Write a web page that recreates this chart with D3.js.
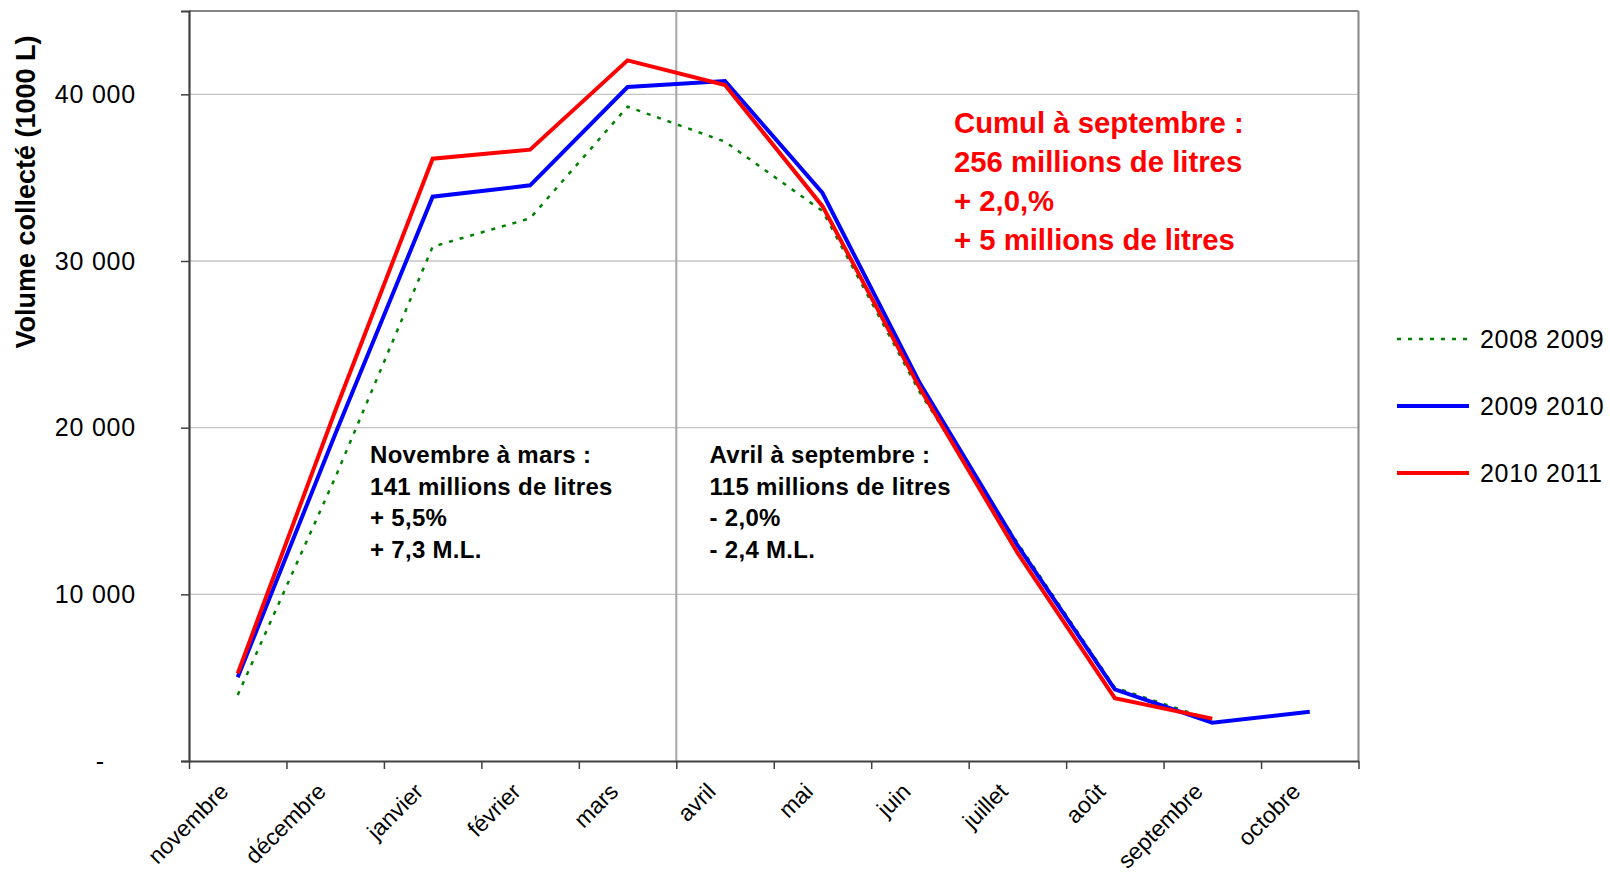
<!DOCTYPE html>
<html>
<head>
<meta charset="utf-8">
<script src="https://cdn.jsdelivr.net/npm/d3@7"></script>
<style>
  body { margin: 0; background: #fff; }
  svg { font-family: "Liberation Sans", Arial, sans-serif; }
</style>
</head>
<body>
<div id="chart"></div>
<script>
// months of the campaign (nov -> oct)
var months = ["novembre", "décembre", "janvier", "février", "mars", "avril",
              "mai", "juin", "juillet", "août", "septembre", "octobre"];
// volumes in 1000 L
var s2008_2009 = [3960, 17000, 30860, 32560, 39260, 37160, 33000, 22100, 13100, 4400, 2450, null];
var s2009_2010 = [5020, 19600, 33860, 34540, 40440, 40800, 34080, 22660, 12950, 4300, 2300, 2960];
var s2010_2011 = [5260, 21000, 36140, 36680, 42040, 40560, 33290, 22360, 12500, 3770, 2540, null];
var seriesNames = ["2008 2009", "2009 2010", "2010 2011"];
var yTicks = [0, 10000, 20000, 30000, 40000];
var splitMonth = "avril";
var noteLeft = ["Novembre à mars :", "141 millions de litres", "+ 5,5%", "+ 7,3 M.L."];
var noteRight = ["Avril à septembre :", "115 millions de litres", "- 2,0%", "- 2,4 M.L."];
var noteCumul = ["Cumul à septembre :", "256 millions de litres", "+ 2,0,%", "+ 5 millions de litres"];

var W = 1610, H = 877;
var margin = {top: 11, right: 251.5, bottom: 116, left: 189};
var svg = d3.select("#chart").append("svg").attr("width", W).attr("height", H);
var width = W - margin.left - margin.right,
    height = H - margin.top - margin.bottom;
var g = svg.append("g").attr("transform", "translate(" + margin.left + "," + margin.top + ")");

var x = d3.scaleBand().domain(months).range([0, width]).padding(0);
var xEdge = d3.scaleLinear().domain([0, months.length]).range([0, width]);
var y = d3.scaleLinear().domain([0, 45000]).range([height, 0]);
var cx = function(m) { return x(m) + x.bandwidth() / 2; };

// gridlines
g.selectAll("line.grid")
  .data(yTicks.filter(function(d) { return d > 0; }))
  .enter().append("line")
    .attr("x1", 0).attr("x2", width)
    .attr("y1", function(d) { return y(d); }).attr("y2", function(d) { return y(d); })
    .attr("stroke", "#c4c4c4").attr("stroke-width", 1.3);

// top & right border
g.append("line").attr("x1", 0).attr("x2", width).attr("y1", 0).attr("y2", 0)
  .attr("stroke", "#858585").attr("stroke-width", 2);
g.append("line").attr("x1", width).attr("x2", width).attr("y1", 0).attr("y2", height)
  .attr("stroke", "#858585").attr("stroke-width", 2);

// split line between mars and avril
g.append("line")
  .attr("x1", x(splitMonth)).attr("x2", x(splitMonth))
  .attr("y1", 0).attr("y2", height)
  .attr("stroke", "#a6a6a6").attr("stroke-width", 2);

// y axis
var yAxis = g.append("g")
  .call(d3.axisLeft(y).tickValues(yTicks).tickSize(8).tickPadding(45)
    .tickFormat(function(d) { return d === 0 ? "-" : d3.format(",")(d).replace(",", " "); }));
yAxis.select(".domain").attr("stroke", "#404040").attr("stroke-width", 2.2);
yAxis.selectAll(".tick line").attr("stroke", "#404040").attr("stroke-width", 1.5);
yAxis.selectAll(".tick text").attr("fill", "#000").style("font-size", "25px")
  .style("letter-spacing", "0.8px")
  .attr("dx", function(d) { return d === 0 ? -31 : 0; });

// x axis (ticks at month boundaries)
var xAxis = g.append("g").attr("transform", "translate(0," + height + ")")
  .call(d3.axisBottom(xEdge).ticks(months.length).tickSize(8).tickSizeOuter(0).tickFormat(""));
xAxis.select(".domain").attr("stroke", "#404040").attr("stroke-width", 2.2);
xAxis.selectAll(".tick line").attr("stroke", "#404040").attr("stroke-width", 1.5);

g.selectAll("text.xlab")
  .data(months)
  .enter().append("text")
    .attr("class", "xlab")
    .attr("text-anchor", "end")
    .attr("transform", function(d) { return "translate(" + (cx(d) - 8) + "," + (height + 32) + ") rotate(-45)"; })
    .style("font-size", "23px")
    .attr("fill", "#000")
    .text(function(d) { return d; });

// y title
svg.append("text")
  .attr("transform", "translate(35,192) rotate(-90)")
  .attr("text-anchor", "middle")
  .style("font-size", "27px").style("font-weight", "bold")
  .text("Volume collecté (1000 L)");

// lines
var series = [
  {name: seriesNames[0], values: s2008_2009, color: "#008000", width: 2.5, dash: "4,7"},
  {name: seriesNames[1], values: s2009_2010, color: "#0000ff", width: 4, dash: null},
  {name: seriesNames[2], values: s2010_2011, color: "#ff0000", width: 4, dash: null}
];
var line = d3.line()
  .defined(function(d) { return d.v != null; })
  .x(function(d) { return cx(d.m); })
  .y(function(d) { return y(d.v); });

g.selectAll("path.series")
  .data(series)
  .enter().append("path")
    .attr("class", "series")
    .attr("fill", "none")
    .attr("stroke", function(d) { return d.color; })
    .attr("stroke-width", function(d) { return d.width; })
    .attr("stroke-dasharray", function(d) { return d.dash; })
    .attr("stroke-linejoin", "miter")
    .attr("d", function(d) {
      return line(months.map(function(m, i) { return {m: m, v: d.values[i]}; }));
    });

// legend
var legend = svg.append("g").attr("transform", "translate(1397,339)");
var li = legend.selectAll("g").data(series).enter().append("g")
  .attr("transform", function(d, i) { return "translate(0," + (i * 67) + ")"; });
li.append("line").attr("x1", 0).attr("x2", 72).attr("y1", 0).attr("y2", 0)
  .attr("stroke", function(d) { return d.color; })
  .attr("stroke-width", function(d) { return d.width; })
  .attr("stroke-dasharray", function(d) { return d.dash; });
li.append("text").attr("x", 83).attr("y", 9)
  .style("font-size", "25px").style("letter-spacing", "0.7px")
  .text(function(d) { return d.name; });

// annotations
function note(lines, x0, y0, step, size, spacing, color) {
  svg.append("g").selectAll("text").data(lines).enter().append("text")
    .attr("x", x0).attr("y", function(d, i) { return y0 + i * step; })
    .style("font-size", size + "px").style("font-weight", "bold")
    .style("letter-spacing", spacing + "px")
    .attr("fill", color)
    .text(function(d) { return d; });
}
note(noteLeft, 370, 463, 31.7, 24, 0.3, "#000");
note(noteRight, 709.5, 463, 31.7, 24, 0.3, "#000");
note(noteCumul, 954, 133, 39, 29.3, 0, "#ff0000");
</script>
</body>
</html>
